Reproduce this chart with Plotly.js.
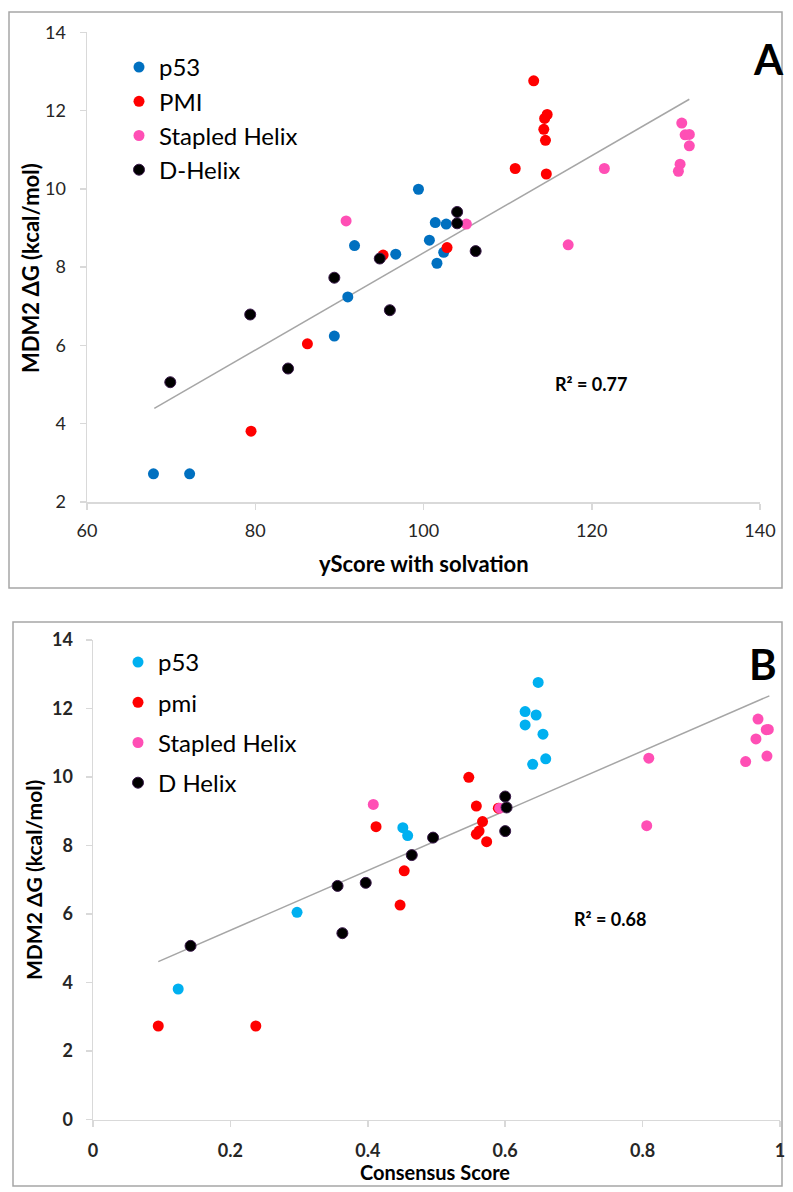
<!DOCTYPE html>
<html>
<head>
<meta charset="utf-8">
<script src="https://cdn.plot.ly/plotly-3.0.1.min.js"></script>
<style>html,body{margin:0;padding:0;background:#fff;}#chart{width:793px;height:1192px;}</style>
</head>
<body>
<div id="chart"></div>
<script>
// ---------- Panel A data (yScore with solvation vs MDM2 dG) ----------
const p53A_x = [67.9, 72.2, 89.4, 91.0, 91.8, 96.7, 99.4, 100.7, 101.4, 101.6, 102.4, 102.7];
const p53A_y = [2.72, 2.72, 6.24, 7.24, 8.55, 8.33, 9.99, 8.69, 9.14, 8.10, 8.38, 9.10];
const pmiA_x = [79.5, 86.2, 95.2, 102.8, 110.9, 113.1, 114.7, 114.4, 114.3, 114.5, 114.6];
const pmiA_y = [3.81, 6.04, 8.31, 8.50, 10.52, 12.76, 11.90, 11.80, 11.52, 11.24, 10.38];
const stapA_x = [90.8, 105.1, 117.2, 121.5, 130.7, 131.1, 131.6, 131.6, 130.5, 130.3];
const stapA_y = [9.18, 9.10, 8.57, 10.52, 11.68, 11.38, 11.39, 11.10, 10.63, 10.45];
const dhelA_x = [69.9, 79.4, 83.9, 89.4, 94.8, 96.0, 104.0, 104.0, 106.2];
const dhelA_y = [5.06, 6.79, 5.41, 7.73, 8.22, 6.90, 9.41, 9.12, 8.41];
const trendA_x = [68.0, 131.6];
const trendA_y = [4.39, 12.29];
const namesA = ["p53", "PMI", "Stapled Helix", "D-Helix"];
const xTicksA = [60, 80, 100, 120, 140];
const yTicksA = [2, 4, 6, 8, 10, 12, 14];

// ---------- Panel B data (Consensus Score vs MDM2 dG) ----------
const p53B_x = [0.124, 0.297, 0.451, 0.458, 0.629, 0.645, 0.629, 0.648, 0.655, 0.640, 0.659];
const p53B_y = [3.81, 6.05, 8.52, 8.29, 11.91, 11.81, 11.52, 12.76, 11.25, 10.37, 10.53];
const pmiB_x = [0.095, 0.237, 0.447, 0.453, 0.412, 0.547, 0.558, 0.590, 0.567, 0.562, 0.558, 0.573];
const pmiB_y = [2.73, 2.73, 6.26, 7.26, 8.55, 9.99, 9.15, 9.09, 8.70, 8.42, 8.33, 8.11];
const stapB_x = [0.408, 0.592, 0.806, 0.809, 0.968, 0.983, 0.980, 0.965, 0.981, 0.950];
const stapB_y = [9.20, 9.09, 8.58, 10.55, 11.69, 11.39, 11.38, 11.11, 10.61, 10.45];
const dhelB_x = [0.142, 0.356, 0.363, 0.397, 0.464, 0.495, 0.600, 0.602, 0.600];
const dhelB_y = [5.07, 6.82, 5.44, 6.91, 7.72, 8.23, 9.43, 9.11, 8.42];
const trendB_x = [0.095, 0.9845];
const trendB_y = [4.61, 12.37];
const namesB = ["p53", "pmi", "Stapled Helix", "D Helix"];
const xTicksB = [0, 0.2, 0.4, 0.6, 0.8, 1];
const xTickTextB = ["0", "0.2", "0.4", "0.6", "0.8", "1"];
const yTicksB = [0, 2, 4, 6, 8, 10, 12, 14];

// ---------- styling ----------
const W = 793, H = 1192;
const FONT = "Lato, 'Open Sans', sans-serif";
const BLUE = "#0070C0", CYAN = "#00B0F0", RED = "#FF0000", PINK = "#FF4FB5", BLACK = "#000000";
const AX = "#D9D9D9";
const px = v => v / W;
const py = v => 1 - v / H;

function pts(x, y, name, color, xa, ya, leg, isBlack) {
  return {
    type: "scatter", mode: "markers", x: x, y: y, name: name,
    xaxis: xa, yaxis: ya, legend: leg, legendgroup: leg + name,
    marker: {
      size: 11, color: color,
      line: isBlack ? {color: "#3a1a4a", width: 1} : {width: 0}
    },
    cliponaxis: false
  };
}
function trend(x, y, xa, ya) {
  return {type: "scatter", mode: "lines", x: x, y: y, xaxis: xa, yaxis: ya,
          showlegend: false, line: {color: "#A6A6A6", width: 1.5}, hoverinfo: "skip"};
}

const data = [
  trend(trendA_x, trendA_y, "x", "y"),
  pts(p53A_x, p53A_y, namesA[0], BLUE, "x", "y", "legend"),
  pts(pmiA_x, pmiA_y, namesA[1], RED, "x", "y", "legend"),
  pts(stapA_x, stapA_y, namesA[2], PINK, "x", "y", "legend"),
  pts(dhelA_x, dhelA_y, namesA[3], BLACK, "x", "y", "legend", true),
  trend(trendB_x, trendB_y, "x2", "y2"),
  pts(p53B_x, p53B_y, namesB[0], CYAN, "x2", "y2", "legend2"),
  pts(pmiB_x, pmiB_y, namesB[1], RED, "x2", "y2", "legend2"),
  pts(stapB_x, stapB_y, namesB[2], PINK, "x2", "y2", "legend2"),
  pts(dhelB_x, dhelB_y, namesB[3], BLACK, "x2", "y2", "legend2", true)
];

function axis(common) {
  return Object.assign({
    showgrid: false, zeroline: false, showline: true, linecolor: AX, linewidth: 1.5,
    ticks: "outside", ticklen: 6, tickcolor: AX, tickwidth: 1.5,
    fixedrange: true
  }, common);
}

const tickFontA = {family: FONT, size: 18, color: "#262626"};
const tickFontB = {family: FONT, size: 18, color: "#262626", weight: "bold"};

function note(text, x, y, size, extra) {
  return Object.assign({text: text, xref: "paper", yref: "paper", x: px(x), y: py(y),
    xanchor: "center", yanchor: "middle", showarrow: false,
    font: {family: FONT, size: size, color: "#000", weight: "bold"}}, extra || {});
}

const layout = {
  width: W, height: H,
  margin: {l: 0, r: 0, t: 0, b: 0},
  paper_bgcolor: "#fff", plot_bgcolor: "#fff",
  showlegend: true,
  xaxis: axis({domain: [px(87), px(760)], range: [60, 140], tickvals: xTicksA,
               tickfont: tickFontA, anchor: "y", ticklabelstandoff: 6}),
  yaxis: axis({domain: [py(502), py(32.3)], range: [2, 14], tickvals: yTicksA,
               tickfont: tickFontA, anchor: "x", ticklabelstandoff: 10}),
  xaxis2: axis({domain: [px(93), px(780)], range: [0, 1], tickvals: xTicksB, ticktext: xTickTextB,
                tickfont: tickFontB, anchor: "y2", ticklabelstandoff: 8}),
  yaxis2: axis({domain: [py(1119.5), py(640)], range: [0, 14], tickvals: yTicksB,
                tickfont: tickFontB, anchor: "x2", ticklabelstandoff: 9}),
  legend: {x: px(119), y: py(45), xanchor: "left", yanchor: "top",
           font: {family: FONT, size: 24, color: "#000"}, bgcolor: "rgba(0,0,0,0)",
           tracegroupgap: 0, itemclick: false},
  legend2: {x: px(118), y: py(640), xanchor: "left", yanchor: "top",
            font: {family: FONT, size: 24, color: "#000"}, bgcolor: "rgba(0,0,0,0)",
            tracegroupgap: 6, itemclick: false},
  shapes: [
    {type: "rect", xref: "paper", yref: "paper", x0: px(9), x1: px(782), y0: py(588), y1: py(12),
     line: {color: "#A6A6A6", width: 1.5}, fillcolor: "rgba(0,0,0,0)", layer: "below"},
    {type: "rect", xref: "paper", yref: "paper", x0: px(13), x1: px(782), y0: py(1186), y1: py(622),
     line: {color: "#A6A6A6", width: 1.5}, fillcolor: "rgba(0,0,0,0)", layer: "below"}
  ],
  annotations: [
    note("yScore with solvation", 424, 563, 22),
    note("MDM2 ΔG (kcal/mol)", 30, 268, 22, {textangle: -90}),
    note("R² = 0.77", 591, 384, 18),
    note("A", 768, 59, 42),
    note("Consensus Score", 435, 1172, 20),
    note("MDM2 ΔG (kcal/mol)", 33, 880, 21, {textangle: -90}),
    note("R² = 0.68", 610, 919, 18),
    note("B", 763, 664, 42)
  ]
};

Plotly.newPlot("chart", data, layout, {displayModeBar: false, staticPlot: true});
</script>
</body>
</html>
